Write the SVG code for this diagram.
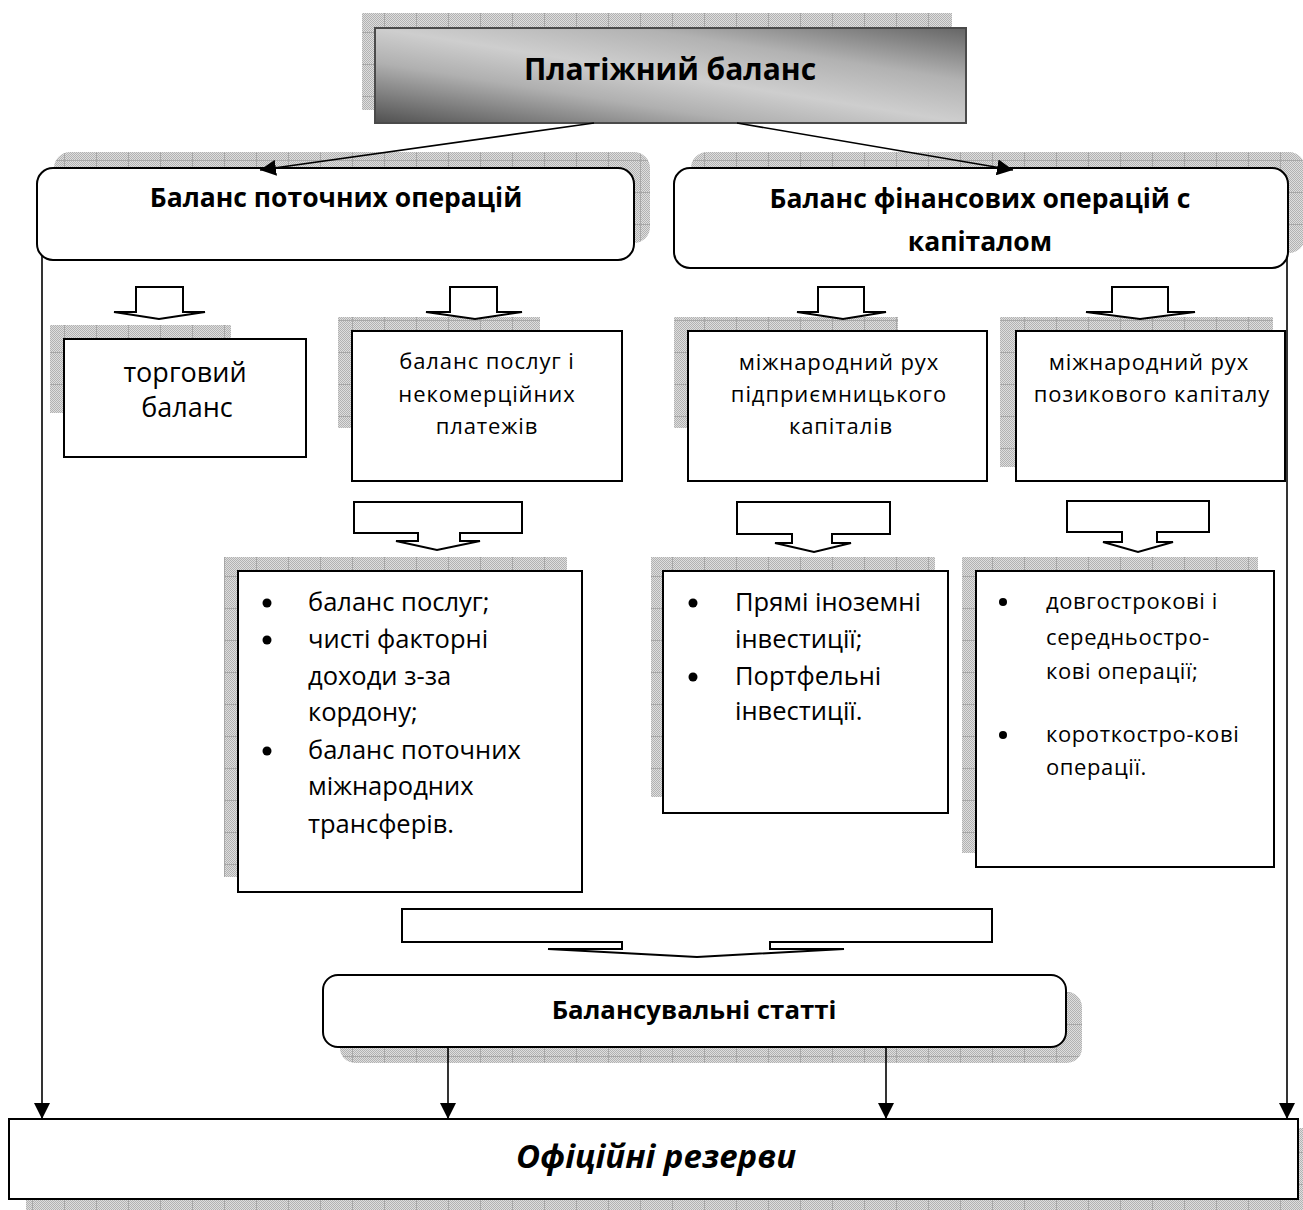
<svg xmlns="http://www.w3.org/2000/svg" width="1303" height="1210" viewBox="0 0 1303 1210">
<defs>
<pattern id="dots" width="2" height="2" patternUnits="userSpaceOnUse"><rect width="2" height="2" fill="#dedede"/><rect width="1" height="1" fill="#b2b2b2"/><rect x="1" y="1" width="1" height="1" fill="#b2b2b2"/></pattern>
<pattern id="shade" width="32" height="32" patternUnits="userSpaceOnUse"><rect width="32" height="32" fill="url(#dots)"/><path d="M0 0.5H32M0.5 0V32" stroke="#a8a8a8" stroke-width="1"/></pattern>
<linearGradient id="topgrad" x1="0" y1="1" x2="1" y2="0">
<stop offset="0" stop-color="#505050"/>
<stop offset="0.32" stop-color="#b0b0b0"/>
<stop offset="0.5" stop-color="#cecece"/>
<stop offset="0.72" stop-color="#b2b2b2"/>
<stop offset="1" stop-color="#656565"/>
</linearGradient>
<marker id="ah" viewBox="0 0 16 16" refX="16" refY="8" markerWidth="16" markerHeight="16" markerUnits="userSpaceOnUse" orient="auto"><path d="M0 0L16 8L0 16Z" fill="#000"/></marker>
</defs>
<style>
.sh{fill:url(#shade)}
.box{fill:#fff;stroke:#000;stroke-width:2}
.blk{fill:#fff;stroke:#000;stroke-width:2;stroke-linejoin:miter}
.ln{stroke:#000;stroke-width:1.6;fill:none;marker-end:url(#ah)}
.h{font-family:"Open Sans","Liberation Sans",sans-serif;font-weight:bold;fill:#000;text-anchor:middle}
.t{font-family:"Open Sans","Liberation Sans",sans-serif;fill:#000}
.c{text-anchor:middle;font-size:22px;letter-spacing:0.9px}
.b1{font-size:25.5px}
.b3{font-size:22px;letter-spacing:0.6px}
</style>
<rect width="1303" height="1210" fill="#fff"/>

<g id="node-platizhnyi">
<rect class="sh" x="362" y="13" width="590" height="97"/>
<rect x="375" y="28" width="591" height="95" fill="url(#topgrad)" stroke="#4a4a4a" stroke-width="2"/>
<text class="h" x="670" y="80" font-size="30">Платіжний баланс</text>
</g>

<g id="node-potochni">
<rect class="sh" x="54" y="152" width="596" height="91" rx="16"/>
<rect class="box" x="37" y="168" width="597" height="92" rx="16"/>
<text class="h" x="336" y="207" font-size="26.5">Баланс поточних операцій</text>
</g>

<g id="node-finansovi">
<rect class="sh" x="691" y="152" width="614" height="101" rx="16"/>
<rect class="box" x="674" y="168" width="614" height="100" rx="16"/>
<text class="h" x="980" y="208" font-size="26.5">Баланс фінансових операцій с</text>
<text class="h" x="980" y="251" font-size="26.5">капіталом</text>
</g>

<g id="node-torgovyi">
<rect class="sh" x="50" y="325" width="181" height="88"/>
<rect class="box" x="64" y="339" width="242" height="118"/>
<text class="t" x="185" y="382" font-size="27" text-anchor="middle">торговий</text>
<text class="t" x="187" y="417" font-size="27" text-anchor="middle">баланс</text>
</g>

<g id="node-posluh">
<rect class="sh" x="338" y="317" width="202" height="111"/>
<rect class="box" x="352" y="331" width="270" height="150"/>
<text class="t c" x="487" y="369">баланс послуг і</text>
<text class="t c" x="487" y="402">некомерційних</text>
<text class="t c" x="487" y="434">платежів</text>
</g>

<g id="node-pidpryiem">
<rect class="sh" x="674" y="317" width="224" height="111"/>
<rect class="box" x="688" y="331" width="299" height="150"/>
<text class="t c" x="839" y="370">міжнародний рух</text>
<text class="t c" x="839" y="402">підприємницького</text>
<text class="t c" x="841" y="434">капіталів</text>
</g>

<g id="node-pozykovyi">
<rect class="sh" x="1000" y="317" width="273" height="150"/>
<rect class="box" x="1016" y="331" width="269" height="150"/>
<text class="t c" x="1149" y="370">міжнародний рух</text>
<text class="t c" x="1152" y="402">позикового капіталу</text>
</g>

<g id="node-list1">
<rect class="sh" x="224" y="557" width="343" height="320"/>
<rect class="box" x="238" y="571" width="344" height="321"/>
<g fill="#000"><circle cx="267" cy="603" r="4.5"/><circle cx="267" cy="640" r="4.5"/><circle cx="267" cy="751" r="4.5"/></g>
<text class="t b1" x="308" y="611">баланс послуг;</text>
<text class="t b1" x="308" y="648">чисті факторні</text>
<text class="t b1" x="308" y="685">доходи з-за</text>
<text class="t b1" x="308" y="721">кордону;</text>
<text class="t b1" x="308" y="759">баланс поточних</text>
<text class="t b1" x="308" y="795">міжнародних</text>
<text class="t b1" x="308" y="833">трансферів.</text>
</g>

<g id="node-list2">
<rect class="sh" x="651" y="557" width="284" height="240"/>
<rect class="box" x="663" y="571" width="285" height="242"/>
<g fill="#000"><circle cx="693" cy="603" r="4.5"/><circle cx="693" cy="677" r="4.5"/></g>
<text class="t b1" x="735" y="611">Прямі іноземні</text>
<text class="t b1" x="735" y="648">інвестиції;</text>
<text class="t b1" x="735" y="685">Портфельні</text>
<text class="t b1" x="735" y="720">інвестиції.</text>
</g>

<g id="node-list3">
<rect class="sh" x="962" y="557" width="296" height="296"/>
<rect class="box" x="976" y="571" width="298" height="296"/>
<g fill="#000"><circle cx="1003" cy="602" r="4"/><circle cx="1003" cy="735" r="4"/></g>
<text class="t b3" x="1046" y="609">довгострокові і</text>
<text class="t b3" x="1046" y="645">середньостро-</text>
<text class="t b3" x="1046" y="679">кові операції;</text>
<text class="t b3" x="1046" y="742">короткостро-кові</text>
<text class="t b3" x="1046" y="775">операції.</text>
</g>

<g id="node-balansuvalni">
<rect class="sh" x="340" y="992" width="742" height="71" rx="15"/>
<rect class="box" x="323" y="975" width="743" height="72" rx="15"/>
<text class="h" x="694" y="1019" font-size="25.8">Балансувальні статті</text>
</g>

<g id="node-rezervy">
<rect class="sh" x="26" y="1128" width="1290" height="85"/>
<rect class="box" x="9" y="1119" width="1289" height="80"/>
<text class="h" x="656" y="1168" font-size="33" font-style="italic">Офіційні резерви</text>
</g>

<g id="connectors">
<line class="ln" x1="594" y1="123" x2="260" y2="170"/>
<line class="ln" x1="737" y1="123" x2="1013" y2="170"/>
<line class="ln" x1="42" y1="256" x2="42" y2="1119"/>
<line class="ln" x1="1287" y1="258" x2="1287" y2="1119"/>
<line class="ln" x1="448" y1="1047" x2="448" y2="1119"/>
<line class="ln" x1="886" y1="1047" x2="886" y2="1119"/>
<polygon class="blk" points="136,287 183,287 183,312 205,312 159,319 114,312 136,312"/>
<polygon class="blk" points="450,287 497,287 497,312 522,312 475,319 426,312 450,312"/>
<polygon class="blk" points="818,287 864,287 864,312 886,312 843,319 797,312 818,312"/>
<polygon class="blk" points="1112,287 1168,287 1168,312 1195,312 1140,319 1086,312 1112,312"/>
<polygon class="blk" points="354,502 522,502 522,533 460,533 460,541 480,541 437,550 396,541 418,541 418,533 354,533"/>
<polygon class="blk" points="737,502 890,502 890,534 832,534 832,543 851,543 814,552 775,543 792,543 792,534 737,534"/>
<polygon class="blk" points="1067,501 1209,501 1209,532 1157,532 1157,542 1173,542 1138,552 1103,542 1122,542 1122,532 1067,532"/>
<polygon class="blk" points="402,909 992,909 992,942 770,942 770,949 844,949 697,957 548,949 622,949 622,942 402,942"/>
</g>
</svg>
